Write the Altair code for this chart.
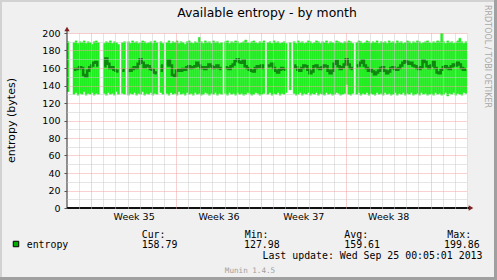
import altair as alt
import pandas as pd

# ---------------- texts ----------------
TITLE = "Available entropy - by month"
Y_TITLE = "entropy (bytes)"
SIDE = "RRDTOOL / TOBI OETIKER"
FIELD = "entropy"
HEAD = ["Cur:", "Min:", "Avg:", "Max:"]
STATS = ["158.79", "127.98", "159.61", "199.86"]
UPDATE = "Last update: Wed Sep 25 00:05:01 2013"
FOOT = "Munin 1.4.5"

# ---------------- axes / grid ----------------
Y_TICKS = [0, 10, 20, 30, 40, 50, 60, 70, 80, 90, 100,
           110, 120, 130, 140, 150, 160, 170, 180, 190, 200]
WEEK_MIDS = [(2013, 8, 28), (2013, 9, 4), (2013, 9, 11), (2013, 9, 18)]
DAYS = [(2013, 8, 24), (2013, 8, 25), (2013, 8, 26), (2013, 8, 27), (2013, 8, 28),
        (2013, 8, 29), (2013, 8, 30), (2013, 8, 31), (2013, 9, 1), (2013, 9, 2),
        (2013, 9, 3), (2013, 9, 4), (2013, 9, 5), (2013, 9, 6), (2013, 9, 7),
        (2013, 9, 8), (2013, 9, 9), (2013, 9, 10), (2013, 9, 11), (2013, 9, 12),
        (2013, 9, 13), (2013, 9, 14), (2013, 9, 15), (2013, 9, 16), (2013, 9, 17),
        (2013, 9, 18), (2013, 9, 19), (2013, 9, 20), (2013, 9, 21), (2013, 9, 22),
        (2013, 9, 23), (2013, 9, 24), (2013, 9, 25)]

# ---------------- data: 4-hour bins from 2013-08-23 00:00 ----------------
N = None
hi = [190, N, N, 189, 191, 188, 190, 189, 191, 188,
      190, 189, 187, 190, 191, 189, N, N, 188, 190,
      189, 191, 188, 190, 189, 187, N, 189, 190, N,
      190, 188, 191, 189, 190, 188, 189, 191, 190, 188,
      189, 190, 188, 191, 189, N, 190, 188, N, 189,
      191, 188, 190, 189, 191, 188, 190, 189, 187, 190,
      191, 189, 188, 190, 189, 195, 190, 188, 191, 189,
      190, 188, 191, 189, 190, 188, 189, N, 190, 191,
      188, 190, 189, 191, 190, 188, 189, 190, 192, 189,
      188, 190, 191, 189, 188, 190, 189, 191, N, 189,
      190, 188, 191, 189, 190, 188, 189, 190, 188, N,
      189, N, 190, 188, 191, 189, 190, 188, 189, 191,
      190, 188, 189, 191, 190, 188, 190, 189, 191, 188,
      190, 189, 188, 191, 190, 189, 188, 190, 189, 191,
      190, 188, N, 189, 191, 190, 188, 189, 191, 190,
      188, 190, 189, 191, 188, 190, 189, 190, 188, 191,
      189, 190, 188, 191, 189, 190, 188, 189, 191, 190,
      188, 190, 189, 191, 190, 188, 189, 190, 191, 189,
      188, 190, 189, 191, 190, 199.86, 190, 188, 191, 189,
      190, 188, 189, 191, 194, 190, 188, 190]
lo = [133, N, N, 130, 132, 129, 131, 130, 133, 129,
      131, 130, 132, 129, 131, 130, N, N, 131, 129,
      132, 130, 131, 129, 133, 130, N, 131, 130, N,
      129, 131, 130, 132, 129, 131, 130, 133, 129, 131,
      130, 132, 129, 131, 130, N, 132, 130, N, 131,
      129, 132, 130, 131, 129, 133, 130, 131, 129, 132,
      130, 131, 129, 132, 130, 131, 129, 130, 132, 131,
      129, 131, 130, 132, 129, 131, 130, N, 131, 129,
      132, 130, 131, 129, 132, 130, 131, 129, 130, 132,
      131, 129, 130, 132, 131, 129, 130, 131, N, 130,
      132, 129, 131, 130, 132, 129, 131, 130, 132, N,
      135, N, 131, 129, 130, 132, 129, 131, 130, 132,
      129, 131, 130, 132, 129, 131, 130, 129, 132, 130,
      131, 129, 130, 132, 131, 129, 130, 131, 141, 130,
      129, 131, N, 130, 132, 129, 131, 130, 132, 129,
      131, 130, 129, 132, 130, 131, 129, 132, 130, 131,
      129, 130, 132, 129, 131, 130, 132, 129, 131, 130,
      132, 129, 130, 131, 129, 132, 130, 131, 129, 130,
      131, 129, 132, 130, 131, 129, 130, 132, 127.98, 131,
      130, 132, 129, 131, 130, 129, 132, 131]
avg = [158, N, N, 158, 159, 159, 161, 160, 152, 150,
       157, 161, 163, 166, 167, 163, N, N, 162, 171,
       165, 160, 161, 158, 157, 156, N, 158, 157, N,
       158, 157, 159, 161, 160, 165, 170, 166, 161, 163,
       162, 159, 158, 155, 154, N, 163, 157, N, 163,
       169, 163, 152, 151, 157, 158, 157, 159, 158, 161,
       162, 160, 161, 162, 166, 163, 160, 161, 159, 161,
       164, 162, 160, 161, 163, 160, 159, N, 161, 160,
       159, 162, 164, 168, 170, 167, 166, 169, 162, 160,
       158, 157, 156, 160, 162, 161, 163, 160, N, 162,
       163, 165, 160, 157, 155, 158, 160, 159, 158, N,
       143, N, 163, 161, 158, 157, 160, 163, 162, 158,
       154, 156, 162, 163, 160, 159, 161, 163, 162, 157,
       154, 157, 165, 168, 162, 159, 161, 164, 170, 164,
       160, 159, N, 162, 163, 166, 169, 163, 160, 157,
       158, 156, 153, 155, 157, 160, 161, 157, 154, 156,
       160, 161, 159, 158, 160, 163, 166, 168, 167, 165,
       166, 163, 162, 160, 159, 161, 169, 167, 162, 160,
       163, 167, 160, 155, 154, 158, 161, 162, 160, 159,
       162, 164, 163, 166, 164, 160, 158, 159]

t0 = pd.Timestamp("2013-08-23 00:00")
step = pd.Timedelta(hours=4)
starts = [t0 + step * k for k in range(len(avg))]
df = pd.DataFrame({
    "t": starts,
    "t2": [s + step for s in starts],
    "m": [s + step / 2 for s in starts],
    "hi": hi, "lo": lo, "avg": avg,
})

X_DOMAIN = [alt.DateTime(year=2013, month=8, date=23, hours=0, minutes=5),
            alt.DateTime(year=2013, month=9, date=25, hours=0, minutes=5)]
xscale = alt.Scale(domain=X_DOMAIN)
yscale = alt.Scale(domain=[0, 200], nice=False)

FONT = "DejaVu Sans"
MONO = "DejaVu Sans Mono"
GRAY = "#CACACA"
RED = "#F2A2A2"

x_values = ([alt.DateTime(year=y, month=m, date=d, hours=0) for (y, m, d) in DAYS] +
            [alt.DateTime(year=y, month=m, date=d, hours=12) for (y, m, d) in WEEK_MIDS])

x_axis = alt.Axis(
    values=x_values,
    labelExpr="hours(datum.value) === 12 ? 'Week ' + timeFormat(datum.value, '%V') : ''",
    ticks=False, domain=False, title="",
    grid=True, gridDash=[1, 1], gridWidth=1,
    gridColor={"condition": {"test": "day(datum.value) === 0", "value": RED}, "value": GRAY},
    gridOpacity={"condition": {"test": "hours(datum.value) === 12", "value": 0}, "value": 1},
    labelFont=FONT, labelFontSize=9.5, labelColor="black", labelPadding=3,
    labelFlush=False, labelOverlap=False, zindex=1,
)
y_axis = alt.Axis(
    values=Y_TICKS,
    labelExpr="datum.value % 20 === 0 ? datum.label : ''",
    ticks=True, tickSize=3, tickColor="#555555",
    tickOpacity={"condition": {"test": "datum.value % 20 === 0", "value": 1}, "value": 0},
    domain=False, title="",
    grid=True, gridDash=[1, 1], gridWidth=1,
    gridColor={"condition": {"test": "datum.value % 20 === 0", "value": RED}, "value": GRAY},
    gridOpacity={"condition": {"test": "datum.value === 0", "value": 0}, "value": 1},
    labelFont=FONT, labelFontSize=9.5, labelColor="black",
    labelPadding=4, labelFlush=False, labelOverlap=False, zindex=1,
)

band = alt.Chart(df).mark_rect(
    color="#22EE22", stroke="#22EE22", strokeWidth=0.5, clip=True
).encode(
    x=alt.X("t:T", scale=xscale, axis=x_axis),
    x2="t2:T",
    y=alt.Y("lo:Q", scale=yscale, axis=y_axis),
    y2="hi:Q",
)

line = alt.Chart(df).mark_line(
    color="#0E880E", strokeWidth=2.5, interpolate="step",
    invalid="break-paths-show-domains", clip=True
).encode(
    x=alt.X("m:T", scale=xscale, axis=x_axis),
    y=alt.Y("avg:Q", scale=yscale, axis=y_axis),
)

one = pd.DataFrame({"a": [0]})

def rule(x, x2, y, y2, color, w):
    return alt.Chart(one).mark_rule(color=color, strokeWidth=w).encode(
        x=alt.value(x), x2=alt.value(x2), y=alt.value(y), y2=alt.value(y2))

def text(s, x, y, size, font=FONT, color="black", align="left", baseline="alphabetic", angle=0):
    return alt.Chart(pd.DataFrame({"s": [s]})).mark_text(
        font=font, fontSize=size, color=color, align=align, baseline=baseline, angle=angle
    ).encode(text="s:N", x=alt.value(x), y=alt.value(y))

# plot origin is at (67, 33) of the 497x280 picture
frame = [
    rule(-67, 430, -32, -32, "#D2D2D2", 2),
    rule(-66, -66, -33, 247, "#D2D2D2", 2),
    rule(428.5, 428.5, -33, 247, "#A0A0A0", 3),
    rule(-67, 430, 245.5, 245.5, "#A0A0A0", 3),
]

axes = [
    rule(0, 0, -3, 175, "#2A2A2A", 1),
    rule(0, 403, 175, 175, "#111111", 2),
    alt.Chart(one).mark_point(shape="triangle-up", filled=True, color="#7F1F1F",
                              size=28, opacity=1).encode(x=alt.value(0), y=alt.value(-4)),
    alt.Chart(one).mark_point(shape="triangle-right", filled=True, color="#7F1F1F",
                              size=28, opacity=1).encode(x=alt.value(404), y=alt.value(175)),
]

sq = alt.Chart(one).mark_point(shape="square", filled=True, color="#00AA00",
                               stroke="black", strokeWidth=1, size=30, opacity=1).encode(
    x=alt.value(-51), y=alt.value(211))

HX = [74.7, 177.7, 277.3, 380.3]
VX = [74.7, 177.0, 277.3, 377.0]
texts = [
    text(TITLE, 200, -15.7, 12.4, align="center"),
    text(Y_TITLE, -55, 87.5, 11, align="center", baseline="middle", angle=270),
    text(SIDE, 420, -28, 8, color="#A8A8A8", baseline="middle", angle=90),
    text(FIELD, -40.3, 214.5, 9.9, font=MONO),
    text(UPDATE, 415.5, 225.5, 9.9, font=MONO, align="right"),
    text(FOOT, 183, 239.5, 7.6, font=MONO, color="#A0A0A0", align="center"),
]
for s, x in zip(HEAD, HX):
    texts.append(text(s, x, 204.5, 9.9, font=MONO))
for s, x in zip(STATS, VX):
    texts.append(text(s, x, 214.5, 9.9, font=MONO))

chart = alt.layer(
    band, line, *frame, *axes, sq, *texts,
).properties(
    width=400, height=175,
    background="#F0F0F0",
    padding={"left": 67, "top": 33, "right": 30, "bottom": 72},
    autosize=alt.AutoSizeParams(type="none"),
).configure_view(fill="white", stroke="transparent")

chart.save("out.html", embed_options={"renderer": "svg", "actions": False})
